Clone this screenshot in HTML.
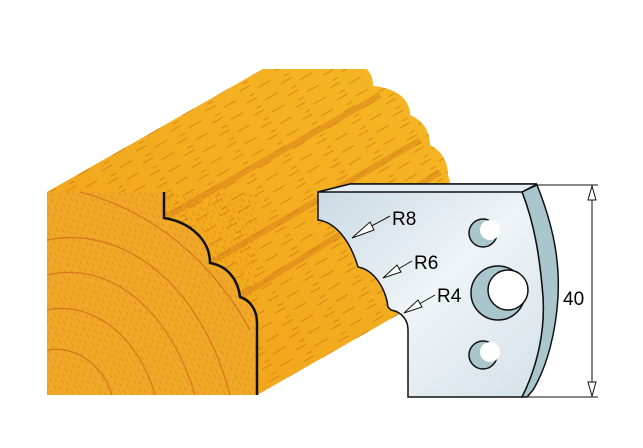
<!DOCTYPE html>
<html><head><meta charset="utf-8"><style>
html,body{margin:0;padding:0;background:#fff;}
svg{display:block;}
text{font-family:"Liberation Sans",sans-serif;}
</style></head><body>
<svg width="643" height="448" viewBox="0 0 643 448" xmlns="http://www.w3.org/2000/svg">
<defs>
<linearGradient id="top" x1="0" y1="1" x2="1" y2="0">
<stop offset="0" stop-color="#f0a01a"/><stop offset="1" stop-color="#f6b824"/></linearGradient>
<linearGradient id="knife" x1="0" y1="0" x2="1" y2="1">
<stop offset="0" stop-color="#c9d9e2"/><stop offset="0.5" stop-color="#eef4f7"/><stop offset="1" stop-color="#d4e1e8"/></linearGradient>
<pattern id="grain" width="40" height="14" patternUnits="userSpaceOnUse" patternTransform="rotate(-30)">
<path d="M2 3h12M20 9h14M8 12h6" stroke="#c86a10" stroke-width="1" opacity="0.6"/></pattern>
<pattern id="grain2" width="9" height="9" patternUnits="userSpaceOnUse" patternTransform="rotate(60)">
<path d="M0 2h5M4 7h4" stroke="#c86a10" stroke-width="0.8" opacity="0.45"/></pattern>
</defs>
<path d="M47 192 L263 69 L367 69 C372 75 373 80 373 86 C395 88 410 98 410 115 C422 120 430 130 430 145 C440 150 448 160 448 175 L473 272 L257 395 Z" fill="url(#top)"/>
<path d="M47 192 L263 69 L367 69 C372 75 373 80 373 86 C395 88 410 98 410 115 C422 120 430 130 430 145 C440 150 448 160 448 175 L473 272 L257 395 Z" fill="url(#grain)"/>
<path d="M164 218 L380 95 M210 263 L420 140 M240 297 L440 172" stroke="#d8801a" stroke-width="6" opacity="0.5" fill="none"/>
<path d="M47 192 L164 192 L164 218 C190 222 210 240 210 263 C228 266 238 280 240 297 C250 300 257 310 257 323 L257 395 L47 395 Z" fill="#f0a828"/>
<rect x="47" y="192" width="210" height="203" fill="url(#grain2)"/>
<g fill="none" stroke="#d0641a" stroke-width="1.3" opacity="0.7">
<path d="M47 240 C120 225 200 280 230 395"/>
<path d="M47 275 C110 260 170 310 195 395"/>
<path d="M47 310 C95 300 140 340 155 395"/>
<path d="M47 350 C80 345 105 370 112 395"/>
<path d="M80 192 C130 205 200 240 250 330"/>
</g>
<path d="M164 192 L164 218 C190 222 210 240 210 263 C228 266 238 280 240 297 C250 300 257 310 257 323 L257 395" fill="none" stroke="#111" stroke-width="2.5"/>
<!-- knife -->
<path d="M522 192 L537 185 C553 225 560 260 558 297 C556 330 548 365 533 390 L527 397 L522 397 C538 365 545 330 543 297 C540 260 535 225 522 192 Z" fill="#a9c6cc" stroke="#111" stroke-width="1.5"/>
<path d="M318 192 L350 184 L537 184 L522 192 C535 225 540 260 543 297 C545 330 538 365 522 397 L408 397 L408 330 C408 320 402 312 391 310 L388 307 C386 290 375 270 358 267 C350 240 335 222 318 220 Z" fill="url(#knife)" stroke="#111" stroke-width="1.5"/>
<path d="M350 184 L537 184 L522 192 L318 192 Z" fill="#e4edf1" stroke="#111" stroke-width="1.5"/>
<g stroke="#111" stroke-width="1.5">
<circle cx="483" cy="233" r="14" fill="#a9c6cc"/>
<circle cx="490" cy="230" r="10" fill="#fff" stroke="none"/>
<circle cx="498" cy="293" r="27" fill="#a9c6cc"/>
<circle cx="508" cy="290" r="20" fill="#fff"/>
<circle cx="483" cy="355" r="14" fill="#a9c6cc"/>
<circle cx="490" cy="352" r="10" fill="#fff" stroke="none"/>
</g>
<g stroke="#111" stroke-width="1" fill="#fff">
<path d="M390 216 L355 235"/><path d="M352 238 L370 222 L374 230 Z"/>
<path d="M412 261 L386 276"/><path d="M383 278 L397 265 L401 272 Z"/>
<path d="M435 295 L407 311"/><path d="M404 313 L418 300 L422 307 Z"/>
</g>
<text x="392" y="225" font-size="19">R8</text>
<text x="414" y="269" font-size="19">R6</text>
<text x="437" y="302" font-size="19">R4</text>
<g stroke="#111" stroke-width="1" fill="#fff">
<path d="M537 185 L598 185 M527 397 L598 397 M592 185 L592 397"/>
<path d="M592 186 L588 200 L596 200 Z"/>
<path d="M592 396 L588 382 L596 382 Z"/>
</g>
<text x="563" y="305" font-size="19">40</text>
</svg>
</body></html>
